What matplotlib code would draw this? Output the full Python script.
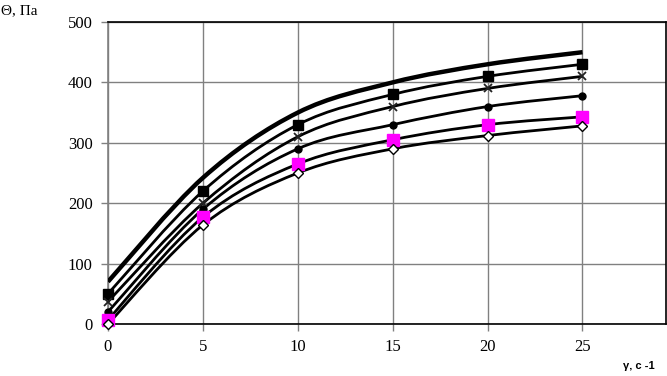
import matplotlib
matplotlib.use("Agg")
import matplotlib.pyplot as plt
from matplotlib.path import Path
from matplotlib.patches import PathPatch
import numpy as np

# скорость сдвига, с-1
x = [0, 5, 10, 15, 20, 25]

# напряжение сдвига, Па
s_thick = [70, 242, 350, 400, 430, 450]
s_square = [50, 220, 330, 380, 410, 430]
s_cross = [37, 200, 310, 360, 390, 410]
s_circle = [20, 190, 290, 330, 360, 378]
s_magenta = [7, 177, 265, 305, 330, 343]
s_diamond = [0, 164, 250, 290, 312, 328]


def smooth_path(xs, ys):
    # сглаженная линия как в Excel (кривые Безье)
    p = np.column_stack([xs, ys]).astype(float)
    n = len(p)
    verts = [p[0]]
    codes = [Path.MOVETO]
    for i in range(n - 1):
        p0 = p[i - 1] if i > 0 else p[i]
        p1 = p[i]
        p2 = p[i + 1]
        p3 = p[i + 2] if i + 2 < n else p[i + 1]
        c1 = p1 + (p2 - p0) / 6.0
        c2 = p2 - (p3 - p1) / 6.0
        verts += [c1, c2, p2]
        codes += [Path.CURVE4] * 3
    return Path(verts, codes)


def main():
    fig = plt.figure(figsize=(6.67, 3.76), dpi=100)
    ax = fig.add_axes([108 / 667, 52 / 376, (666 - 108) / 667, (324 - 22) / 376])

    series = [
        (s_thick, None, 3.2, {}),
        (s_square, "s", 2.0, dict(color="black", markersize=7)),
        (s_cross, "x", 2.0, dict(color="#222222", markersize=6, markeredgewidth=1.3)),
        (s_circle, "o", 2.0, dict(color="black", markersize=5)),
        (s_magenta, "s", 2.0, dict(color="#ff00ff", markersize=8)),
        (s_diamond, "D", 2.0, dict(markerfacecolor="white", markeredgecolor="black",
                                   markersize=5, markeredgewidth=1.0)),
    ]

    for ys, m, lw, mk in series:
        ax.add_patch(PathPatch(smooth_path(x, ys), facecolor="none",
                               edgecolor="black", linewidth=lw, zorder=3))
        if m is not None:
            ax.plot(x, ys, linestyle="none", marker=m, zorder=4, clip_on=False, **mk)

    ax.set_xlim(0, 29.4)
    ax.set_ylim(0, 500)
    ax.set_xticks([0, 5, 10, 15, 20, 25])
    ax.set_yticks([0, 100, 200, 300, 400, 500])
    ax.grid(True, color="#808080", linewidth=1.0, zorder=0)
    for sp in ["top", "right", "bottom"]:
        ax.spines[sp].set_color("black")
        ax.spines[sp].set_linewidth(1.2)
    ax.spines["left"].set_color("#808080")
    ax.spines["left"].set_linewidth(1.2)
    ax.tick_params(direction="out", length=5, color="#808080", width=1,
                   labelsize=12, pad=6)
    for lab in ax.get_xticklabels() + ax.get_yticklabels():
        lab.set_family("Liberation Serif")

    fig.text(1 / 667, 1 - 14 / 376, "Θ, Па", family="Liberation Serif", fontsize=11)
    fig.text(623 / 667, 1 - 369 / 376, "γ, с -1", family="Liberation Sans",
             fontsize=8, fontweight="bold")

    fig.savefig("out.png", dpi=100)


if __name__ == "__main__":
    main()
